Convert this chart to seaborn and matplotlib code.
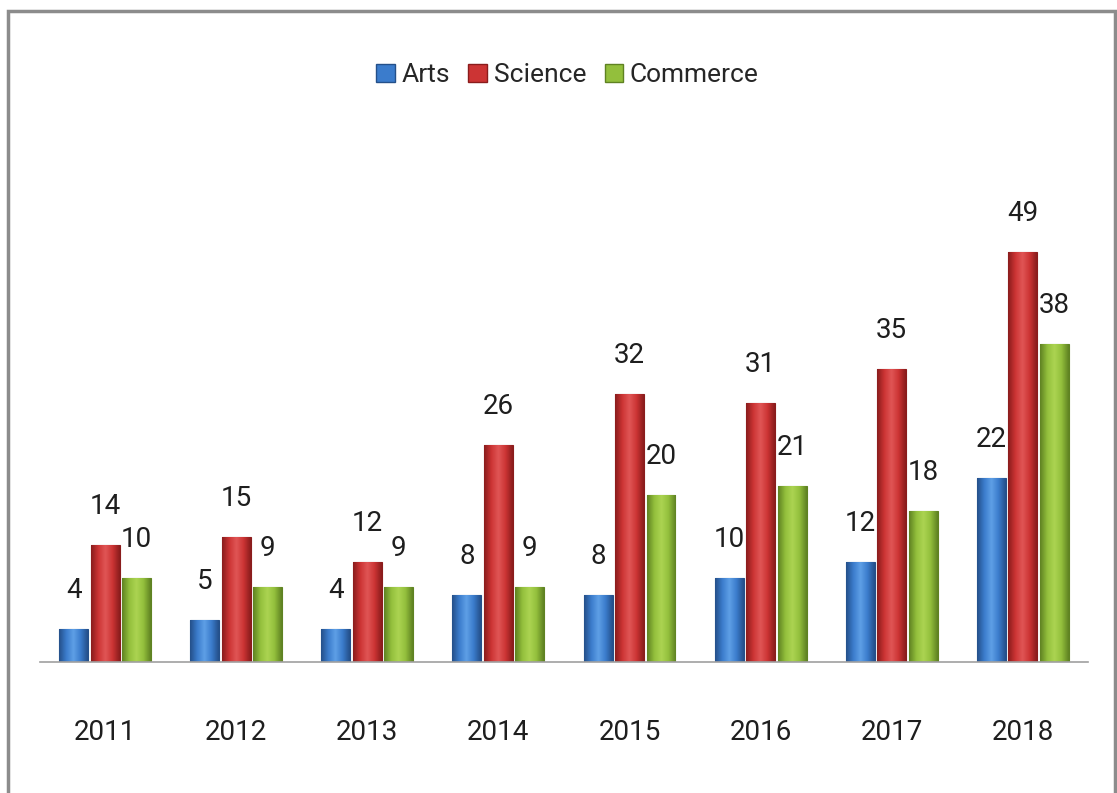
import numpy as np
import pandas as pd
import matplotlib
matplotlib.use("Agg")
import matplotlib.pyplot as plt
from matplotlib.patches import Patch, Rectangle
from matplotlib.colors import LinearSegmentedColormap
import seaborn as sns

years = ["2011", "2012", "2013", "2014", "2015", "2016", "2017", "2018"]
arts = [4, 5, 4, 8, 8, 10, 12, 22]
science = [14, 15, 12, 26, 32, 31, 35, 49]
commerce = [10, 9, 9, 9, 20, 21, 18, 38]
streams = ["Arts", "Science", "Commerce"]

base_colors = {"Arts": "#3b7ccc", "Science": "#cc3434", "Commerce": "#93bf3c"}
edge_colors = {"Arts": "#24508a", "Science": "#8a1c1c", "Commerce": "#5f8222"}
light_colors = {"Arts": "#5fa0e6", "Science": "#e05656", "Commerce": "#acd452"}

df = pd.DataFrame({
    "Year": years * 3,
    "Stream": ["Arts"] * 8 + ["Science"] * 8 + ["Commerce"] * 8,
    "Value": arts + science + commerce,
})

sns.set_theme(style="white")
plt.rcParams["font.family"] = ["Roboto", "DejaVu Sans"]

fig = plt.figure(figsize=(11.17, 7.93), dpi=100)
ax = fig.add_axes([0.0354, 0.1652, 0.939, 0.64])

sns.barplot(data=df, x="Year", y="Value", hue="Stream", hue_order=streams,
            order=years, palette=base_colors, width=0.72, gap=0.08,
            saturation=1, legend=False, ax=ax, edgecolor="none")

# shaded fill for each bar, darker at the sides
for container, stream in zip(ax.containers, streams):
    cmap = LinearSegmentedColormap.from_list(
        stream, [edge_colors[stream], base_colors[stream], light_colors[stream],
                 base_colors[stream], edge_colors[stream]])
    grad = np.linspace(0, 1, 64).reshape(1, -1)
    for bar in container:
        x0, w, h = bar.get_x(), bar.get_width(), bar.get_height()
        im = ax.imshow(grad, cmap=cmap, aspect="auto",
                       extent=[x0, x0 + w, 0, h], zorder=bar.get_zorder(),
                       interpolation="bicubic")
        im.set_clip_path(bar)
        bar.set_edgecolor(edge_colors[stream])
        bar.set_linewidth(0.8)
    ax.bar_label(container, labels=[str(int(b.get_height())) for b in container],
                 padding=18, fontsize=20, color="#1e1e1e")

ax.set_aspect("auto")
ax.set_xlim(-0.5, 7.5)
ax.set_ylim(0, 60.7)

for s in ["top", "right", "left"]:
    ax.spines[s].set_visible(False)
ax.spines["bottom"].set_color("#a0a0a0")
ax.spines["bottom"].set_linewidth(1.2)
ax.set_yticks([])
ax.set_xlabel("")
ax.set_ylabel("")
ax.tick_params(axis="x", length=0, pad=41, labelsize=20, labelcolor="#1e1e1e")

handles = [Patch(facecolor=base_colors[s], edgecolor=edge_colors[s]) for s in streams]
fig.legend(handles, streams, loc="center", bbox_to_anchor=(0.508, 0.905), ncol=3,
           frameon=False, fontsize=19, handlelength=0.7, handleheight=0.7,
           handletextpad=0.25, columnspacing=0.7)

# outer frame
fig.patches.append(Rectangle((8 / 1117, -0.05), (1115 - 8) / 1117, 1 - 11 / 793 + 0.05,
                             transform=fig.transFigure, fill=False,
                             edgecolor="#8c8c8c", linewidth=2.5))

fig.savefig("out.png", dpi=100, facecolor="white")
